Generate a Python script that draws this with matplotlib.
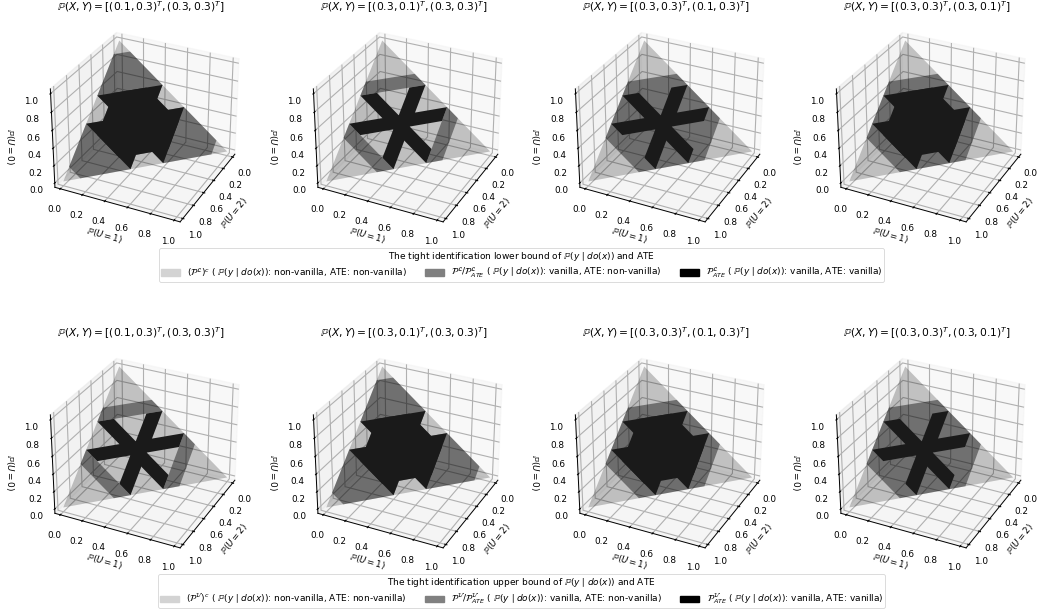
import matplotlib
matplotlib.use('Agg')
import matplotlib.pyplot as plt
from matplotlib.patches import Patch
from mpl_toolkits.mplot3d.art3d import Poly3DCollection

# P(X, Y) of each column
xy_first = ['(0.1, 0.3)', '(0.3, 0.1)', '(0.3, 0.3)', '(0.3, 0.3)']
xy_second = ['(0.3, 0.3)', '(0.3, 0.3)', '(0.1, 0.3)', '(0.3, 0.1)']

# Arms of the black star: bounds of each strip on the simplex, and where they stop
lower_strip_low = [0.1, 0.3, 0.3, 0.1]
upper_strip_low = [0.3, 0.1, 0.1, 0.3]
strip_high = 0.4
arm_end = 0.6

# Grey region of each panel
lower_grey_kind = ['notched', 'bands', 'hexagon', 'hexagon']
upper_grey_kind = ['bands', 'notched', 'hexagon', 'hexagon']

# Vertices as (P(U=1), P(U=2)), P(U=0) is the rest
simplex = [(0, 0), (1, 0), (0, 1)]
hexagon = [(0, 0.3), (0.3, 0), (0.7, 0), (0.7, 0.3), (0.3, 0.7), (0, 0.7)]
bands = [
    [(0, 0.3), (0.3, 0), (0.4, 0), (0, 0.4)],
    [(0.7, 0), (0.7, 0.3), (0.6, 0.4), (0.6, 0)],
    [(0.3, 0.7), (0, 0.7), (0, 0.6), (0.4, 0.6)],
]
notched = [(0, 0.1), (0.1, 0), (0.4, 0), (0.4, 0.1), (0.5, 0.1), (0.6, 0), (0.9, 0),
           (0.9, 0.1), (0.6, 0.4), (0.5, 0.4), (0.4, 0.5), (0.4, 0.6), (0.1, 0.9),
           (0, 0.9), (0, 0.6), (0.1, 0.5), (0.1, 0.4), (0, 0.4)]

ticks = [0.0, 0.2, 0.4, 0.6, 0.8, 1.0]
col_centers = [141, 404, 666, 927]
title_rows = [7, 333]
box_rows = [126, 452]
FS = 6.4


def lift(poly):
    # the x axis of the box carries P(U=2), the y axis P(U=1)
    return [(u2, u1, 1 - u1 - u2) for u1, u2 in poly]


def arm_quads(a, b, e):
    h = strip_high
    return [
        [(h - a, e), (h - b, e), (e, h - b), (e, h - a)],
        [(a, h - a), (b, h - b), (b, e), (a, e)],
        [(h - a, a), (h - b, b), (e, b), (e, a)],
    ]


def draw_panel(fig, col, row, low, kind):
    size = 218
    left = (col_centers[col] + 3 - size / 2) / 1037
    bottom = 1 - (box_rows[row] + size / 2) / 615
    ax = fig.add_axes([left, bottom, size / 1037, size / 615], projection='3d')
    ax.computed_zorder = False
    ax.set_box_aspect((4, 4, 3.25))

    tri = Poly3DCollection([lift(simplex)], facecolor='#000000', edgecolor='none', alpha=0.22, zorder=1)
    ax.add_collection3d(tri)

    grey = {'hexagon': [hexagon], 'bands': bands, 'notched': [notched]}[kind]
    mid = Poly3DCollection([lift(p) for p in grey], facecolor='#000000', edgecolor='none', alpha=0.42, zorder=2)
    ax.add_collection3d(mid)

    arms = Poly3DCollection([lift(q) for q in arm_quads(low, strip_high, arm_end)],
                            facecolor='#1a1a1a', edgecolor='none', zorder=3)
    ax.add_collection3d(arms)

    ax.set_xlim(-0.05, 1.05)
    ax.set_ylim(-0.05, 1.05)
    ax.set_zlim(-0.05, 1.05)
    ax.view_init(elev=30, azim=26)
    ax.set_xticks(ticks)
    ax.set_yticks(ticks)
    ax.set_zticks(ticks)
    ax.tick_params(labelsize=FS, pad=0, length=2, width=0.5)
    for axis in (ax.xaxis, ax.yaxis, ax.zaxis):
        axis._axinfo['grid']['linewidth'] = 0.8
        axis._axinfo['tick']['inward_factor'] = 0.1
        axis._axinfo['tick']['outward_factor'] = 0.1
        axis.line.set_linewidth(0.7)

    ax.set_xlabel(r'$\mathbb{P}(U=2)$', fontsize=FS, labelpad=-4)
    ax.set_ylabel(r'$\mathbb{P}(U=1)$', fontsize=FS, labelpad=-6)
    ax.zaxis.set_rotate_label(False)
    ax.set_zlabel(r'$\mathbb{P}(U=0)$', fontsize=FS, labelpad=-3, rotation=270)

    title = r'$\mathbb{P}(X,Y)=[%s^T,%s^T]$' % (xy_first[col], xy_second[col])
    fig.text(col_centers[col] / 1037, 1 - title_rows[row] / 615, title, fontsize=7.7, ha='center', va='center')


def row_legend(fig, sym, word, y):
    cond = r'$\mathbb{P}(y\mid do(x))$'
    handles = [
        Patch(color='#d3d3d3', label=r'$(\mathcal{P}^{\mathcal{%s}})^c$ ( %s: non-vanilla, ATE: non-vanilla)' % (sym, cond)),
        Patch(color='#808080', label=r'$\mathcal{P}^{\mathcal{%s}}/\mathcal{P}^{\mathcal{%s}}_{ATE}$ ( %s: vanilla, ATE: non-vanilla)' % (sym, sym, cond)),
        Patch(color='#000000', label=r'$\mathcal{P}^{\mathcal{%s}}_{ATE}$ ( %s: vanilla, ATE: vanilla)' % (sym, cond)),
    ]
    leg = fig.legend(handles=handles, ncol=3, loc='center', bbox_to_anchor=(521.5 / 1037, 1 - y / 615),
                     fontsize=6.5, title='The tight identification %s bound of %s and ATE' % (word, cond),
                     title_fontsize=6.5, columnspacing=2.0, handletextpad=0.8, borderpad=0.2,
                     labelspacing=0.2, handlelength=2.1)
    leg.get_frame().set_linewidth(0.6)
    leg._legend_box.sep = 2


fig = plt.figure(figsize=(10.37, 6.15), dpi=100)
for c in range(4):
    draw_panel(fig, c, 0, lower_strip_low[c], lower_grey_kind[c])
    draw_panel(fig, c, 1, upper_strip_low[c], upper_grey_kind[c])
row_legend(fig, 'L', 'lower', 265)
row_legend(fig, 'U', 'upper', 591)

fig.savefig('out.png', dpi=100)
